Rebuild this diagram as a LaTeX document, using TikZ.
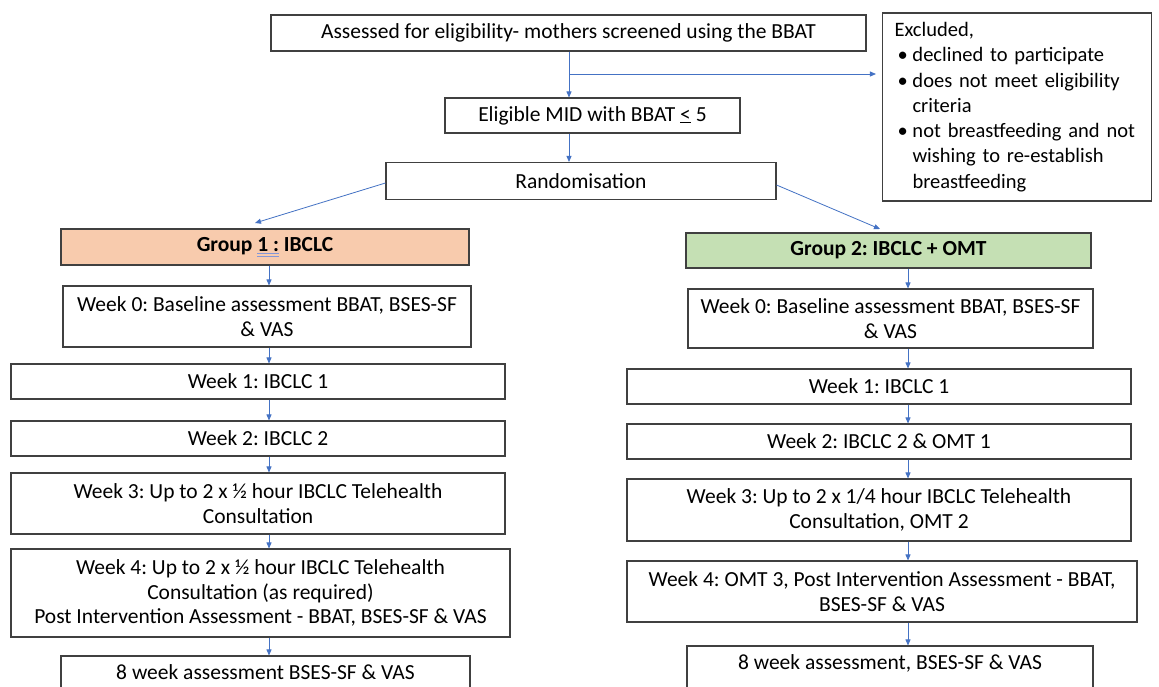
\documentclass[tikz,border=0pt]{standalone}
\usepackage{fontspec}
\setmainfont{Carlito}
\usetikzlibrary{arrows.meta}
\frenchspacing
\definecolor{boxgray}{HTML}{404040}
\definecolor{linkblue}{HTML}{4472C4}
\definecolor{peach}{HTML}{F8CBAD}
\definecolor{sage}{HTML}{C5E0B4}
\definecolor{ulblue}{HTML}{8497D8}
\newsavebox{\ulbox}
\newcommand\dblul[1]{\sbox\ulbox{#1}%
  \rlap{\color{ulblue}\raisebox{-2.5pt}{\rule{\wd\ulbox}{0.7pt}}}%
  \rlap{\color{ulblue}\raisebox{-4.8pt}{\rule{\wd\ulbox}{0.7pt}}}\usebox\ulbox}

\begin{document}
\begin{tikzpicture}[x=1pt, y=-1pt, font=\fontsize{21.5}{24.5}\selectfont,
        box/.style={draw=boxgray, line width=1.1pt, fill=white, align=center,
          inner sep=0pt, text=black},
        wh/.style 2 args={minimum width=#1pt, minimum height=#2pt},
        grpone/.style={box, fill=peach, font=\fontsize{21.5}{24.5}\selectfont\bfseries},
        grptwo/.style={box, fill=sage, font=\fontsize{21.5}{24.5}\selectfont\bfseries},
        cut/.style={text height=15pt, text depth=17pt},
        conn/.style={draw=linkblue, line width=0.8pt,
          -{Triangle[length=6pt, width=5pt]}}]
      \path[use as bounding box, fill=white] (0,0) rectangle (1159,686);
      % screening and randomisation
      \node[box, wh={595}{36}] (screen) at (568.5,33) {Assessed for eligibility- mothers screened using the BBAT};
      \node[box, wh={295}{35}] (elig) at (592.5,115.5) {Eligible MID with BBAT \underline{<} 5};
      \node[box, wh={390}{37}] (rand) at (581,181) {Randomisation};
      \node[box, wh={269}{188}, text width=245pt, inner xsep=12pt, align=left,
        font=\fontsize{20.5}{25.3}\selectfont] (excl) at (1017,107)
        {Excluded,\\
         \makebox[18pt][l]{\hspace{3pt}\textbullet}declined to participate\\
         \makebox[18pt][l]{\hspace{3pt}\textbullet}does not meet eligibility\\
         \hspace*{18pt}criteria\\
         \makebox[18pt][l]{\hspace{3pt}\textbullet}not breastfeeding and not\\
         \hspace*{18pt}wishing to re-establish\\
         \hspace*{18pt}breastfeeding};
      % group 1
      \node[grpone, wh={408}{36}] (g1) at (265,247) {Group \dblul{1 :} IBCLC};
      \node[box, wh={408}{61}] (g1w0) at (267,316.5) {Week 0: Baseline assessment BBAT, BSES-SF\\ \& VAS};
      \node[box, wh={494}{35}] (g1w1) at (258,381.5) {Week 1: IBCLC 1};
      \node[box, wh={494}{35}] (g1w2) at (258,438.5) {Week 2: IBCLC 2};
      \node[box, wh={494}{61}] (g1w3) at (258,503.5) {Week 3: Up to 2 x ½ hour IBCLC Telehealth\\ Consultation};
      \node[box, wh={499}{88}] (g1w4) at (260.5,593) {Week 4: Up to 2 x ½ hour IBCLC Telehealth\\ Consultation (as required)\\ Post Intervention Assessment - BBAT, BSES-SF \& VAS};
      \node[box, cut, wh={409}{48}] (g1w8) at (265.5,680) {8 week assessment BSES-SF \& VAS};
      % group 2
      \node[grptwo, wh={405}{35}] (g2) at (888.5,250.5) {Group 2: IBCLC + OMT};
      \node[box, wh={405}{59}] (g2w0) at (890.5,318.5) {Week 0: Baseline assessment BBAT, BSES-SF\\ \& VAS};
      \node[box, wh={504}{35}] (g2w1) at (879,386.5) {Week 1: IBCLC 1};
      \node[box, wh={504}{35}] (g2w2) at (879,441.5) {Week 2: IBCLC 2 \& OMT 1};
      \node[box, wh={504}{62}] (g2w3) at (879,510) {Week 3: Up to 2 x 1/4 hour IBCLC Telehealth\\ Consultation, OMT 2};
      \node[box, wh={510}{61}] (g2w4) at (882,591.5) {Week 4: OMT 3, Post Intervention Assessment - BBAT,\\ BSES-SF \& VAS};
      \node[box, cut, wh={406}{48}] (g2w8) at (890,670) {8 week assessment, BSES-SF \& VAS};
      % connectors
      \coordinate (mainx) at (569,0);
      \coordinate (split) at (569,74);
      \coordinate (colone) at (269,0);
      \coordinate (coltwo) at (908,0);
      \coordinate (tipone) at (255,223);
      \coordinate (tiptwo) at (880,229);
      \draw[conn] (screen.south -| mainx) -- (elig.north -| mainx);
      \draw[conn] (elig.south -| mainx) -- (rand.north -| mainx);
      \draw[conn, shorten >=6pt] (split) -- (split -| excl.west);
      \draw[conn] ([yshift=-2pt]rand.west) -- (tipone);
      \draw[conn] ([yshift=-4pt]rand.east) -- (tiptwo);
      \foreach \a/\b in {g1/g1w0, g1w0/g1w1, g1w1/g1w2, g1w2/g1w3, g1w3/g1w4, g1w4/g1w8}
        \draw[conn] (\a.south -| colone) -- (\b.north -| colone);
      \foreach \a/\b in {g2/g2w0, g2w0/g2w1, g2w1/g2w2, g2w2/g2w3, g2w3/g2w4, g2w4/g2w8}
        \draw[conn] (\a.south -| coltwo) -- (\b.north -| coltwo);
      \end{tikzpicture}
\end{document}
